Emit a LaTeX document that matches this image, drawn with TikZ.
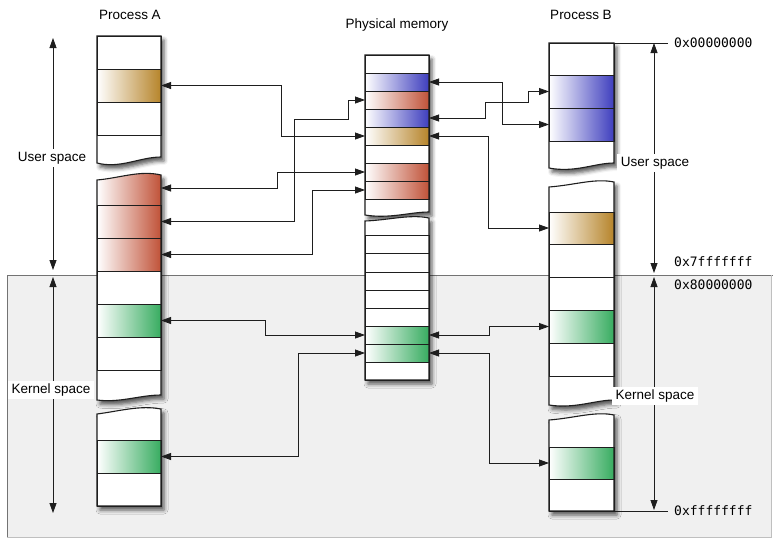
\documentclass[tikz,border=0pt]{standalone}
\usepackage{fontspec}
\setmainfont{Liberation Sans}
\newfontfamily\monof{DejaVu Sans Mono}
\usetikzlibrary{arrows.meta,shadows.blur}
\definecolor{brn}{RGB}{182,132,42}
\definecolor{rd}{RGB}{192,82,56}
\definecolor{blu}{RGB}{62,62,190}
\definecolor{grn}{RGB}{55,172,96}
\definecolor{bgg}{RGB}{240,240,240}
\definecolor{ink}{RGB}{30,30,30}
\tikzset{
  blk/.style={fill=white, draw=none, blur shadow={shadow xshift=3pt, shadow yshift=-4pt, shadow blur radius=4pt, shadow opacity=65}},
  outl/.style={draw=ink, line width=1.1pt},
  cell/.style={draw=ink, line width=1pt, inner sep=0pt, outer sep=0pt, minimum width=64pt},
  cellB/.style={cell, minimum width=65pt},
  ghost/.style={draw=none, inner sep=0pt, outer sep=0pt, minimum width=64pt},
  ghostB/.style={ghost, minimum width=65pt},
  sh/.style={shading=axis, left color=white, right color=#1, shading angle=90},
  conn/.style={draw=ink, line width=0.8pt, {Triangle[length=10pt,width=7pt]}-{Triangle[length=10pt,width=7pt]}},
  dim/.style={draw=ink, line width=0.8pt, {Triangle[length=10pt,width=7pt]}-{Triangle[length=10pt,width=7pt]}},
  ttl/.style={font=\fontsize{13.5}{15}\selectfont, inner sep=1pt},
  lbl/.style={font=\fontsize{13.5}{15}\selectfont, fill=white, inner xsep=4pt, inner ysep=3pt},
  mono/.style={font=\monof\fontsize{13}{14}\selectfont, anchor=west, inner sep=1pt},
}
\begin{document}
\begin{tikzpicture}[x=1pt,y=-1pt]
\useasboundingbox (0,0) rectangle (773,539);
% kernel background
\fill[bgg] (7,275) rectangle (771,537);
\draw[draw=black!55, line width=0.6pt] (7,537) -- (7,275) -- (773,275);
\draw[draw=black!25, line width=0.5pt] (7,537) -- (771,537) -- (771,275);

% block backgrounds
\path[blk] (97,36) -- (161,36) -- (161,157) .. controls (140,157) and (120,169) .. (97,163) -- cycle;
\path[blk] (97,180) .. controls (120,178) and (140,170) .. (161,175) -- (161,395) .. controls (140,395) and (120,403) .. (97,400) -- cycle;
\path[blk] (97,414) .. controls (120,411) and (140,405) .. (161,409) -- (161,506) -- (97,506) -- cycle;
\path[blk] (365,55) -- (429,55) -- (429,212) .. controls (410,212) and (390,219) .. (365,215) -- cycle;
\path[blk] (365,221) .. controls (390,220) and (410,214) .. (429,218) -- (429,380) -- (365,380) -- cycle;
\path[blk] (549,43) -- (614,43) -- (614,163) .. controls (595,163) and (575,173) .. (549,168) -- cycle;
\path[blk] (549,187) .. controls (575,185) and (595,178) .. (614,182) -- (614,400) .. controls (595,400) and (575,409) .. (549,405) -- cycle;
\path[blk] (549,420) .. controls (575,418) and (595,411) .. (614,415) -- (614,511) -- (549,511) -- cycle;

% red wavy-top row of A
\shade[sh=rd] (97,180) .. controls (120,178) and (140,170) .. (161,175) -- (161,205) -- (97,205) -- cycle;

% Process A cells
\node[cell, minimum height=33pt] (a1) at (129,52.5) {};
\node[cell, minimum height=33pt, sh=brn] (a2) at (129,85.5) {};
\node[cell, minimum height=33pt] (a3) at (129,118.5) {};
\node[ghost, minimum height=25pt] (a4) at (129,147.5) {};
\node[ghost, minimum height=34pt] (a5) at (129,188) {};
\node[cell, minimum height=33pt, sh=rd] (a6) at (129,221.5) {};
\node[cell, minimum height=33pt, sh=rd] (a7) at (129,254.5) {};
\node[cell, minimum height=33pt] (a8) at (129,287.5) {};
\node[cell, minimum height=33pt, sh=grn] (a9) at (129,320.5) {};
\node[cell, minimum height=33pt] (a10) at (129,353.5) {};
\node[ghost, minimum height=25pt] (a11) at (129,382.5) {};
\node[ghost, minimum height=30pt] (a12) at (129,425) {};
\node[cell, minimum height=33pt, sh=grn] (a13) at (129,456.5) {};
\node[cell, minimum height=33pt] (a14) at (129,489.5) {};

% Physical memory cells
\node[cell, minimum height=18pt] (p1) at (397,64) {};
\node[cell, minimum height=18pt, sh=blu] (p2) at (397,82) {};
\node[cell, minimum height=18pt, sh=rd] (p3) at (397,100) {};
\node[cell, minimum height=18pt, sh=blu] (p4) at (397,118) {};
\node[cell, minimum height=18pt, sh=brn] (p5) at (397,136) {};
\node[cell, minimum height=18pt] (p6) at (397,154) {};
\node[cell, minimum height=18pt, sh=rd] (p7) at (397,172) {};
\node[cell, minimum height=18pt, sh=rd] (p8) at (397,190) {};
\node[ghost, minimum height=14pt] (p9) at (397,206) {};
\node[ghost, minimum height=17pt] (q1) at (397,226.5) {};
\node[cell, minimum height=18pt] (q2) at (397,244) {};
\node[cell, minimum height=19pt] (q3) at (397,262.5) {};
\node[cell, minimum height=18pt] (q4) at (397,281) {};
\node[cell, minimum height=18pt] (q5) at (397,299) {};
\node[cell, minimum height=18pt] (q6) at (397,317) {};
\node[cell, minimum height=18pt, sh=grn] (q7) at (397,335) {};
\node[cell, minimum height=18pt, sh=grn] (q8) at (397,353) {};
\node[cell, minimum height=18pt] (q9) at (397,371) {};

% Process B cells
\node[cellB, minimum height=32pt] (b1) at (581.5,59) {};
\node[cellB, minimum height=33pt, sh=blu] (b2) at (581.5,91.5) {};
\node[cellB, minimum height=33pt, sh=blu] (b3) at (581.5,124.5) {};
\node[ghostB, minimum height=24pt] (b4) at (581.5,153) {};
\node[ghostB, minimum height=28pt] (b5) at (581.5,198) {};
\node[cellB, minimum height=32pt, sh=brn] (b6) at (581.5,228) {};
\node[cellB, minimum height=33pt] (b7) at (581.5,260.5) {};
\node[cellB, minimum height=33pt] (b8) at (581.5,293.5) {};
\node[cellB, minimum height=33pt, sh=grn] (b9) at (581.5,326.5) {};
\node[cellB, minimum height=33pt] (b10) at (581.5,359.5) {};
\node[ghostB, minimum height=26pt] (b11) at (581.5,389) {};
\node[ghostB, minimum height=30pt] (b12) at (581.5,432) {};
\node[cellB, minimum height=32pt, sh=grn] (b13) at (581.5,463) {};
\node[cellB, minimum height=32pt] (b14) at (581.5,495) {};

% outlines
\path[outl] (97,36) -- (161,36) -- (161,157) .. controls (140,157) and (120,169) .. (97,163) -- cycle;
\path[outl] (97,180) .. controls (120,178) and (140,170) .. (161,175) -- (161,395) .. controls (140,395) and (120,403) .. (97,400) -- cycle;
\path[outl] (97,414) .. controls (120,411) and (140,405) .. (161,409) -- (161,506) -- (97,506) -- cycle;
\path[outl] (365,55) -- (429,55) -- (429,212) .. controls (410,212) and (390,219) .. (365,215) -- cycle;
\path[outl] (365,221) .. controls (390,220) and (410,214) .. (429,218) -- (429,380) -- (365,380) -- cycle;
\path[outl] (549,43) -- (614,43) -- (614,163) .. controls (595,163) and (575,173) .. (549,168) -- cycle;
\path[outl] (549,187) .. controls (575,185) and (595,178) .. (614,182) -- (614,400) .. controls (595,400) and (575,409) .. (549,405) -- cycle;
\path[outl] (549,420) .. controls (575,418) and (595,411) .. (614,415) -- (614,511) -- (549,511) -- cycle;

% connectors A <-> physical
\draw[conn] (a2.east) -| ([xshift=-84pt]p5.west) -- (p5.west);
\draw[conn] (a6.east) -| (294,119) -| ([xshift=-17pt]p3.west) -- (p3.west);
\draw[conn] (a5.east) -| ([xshift=-88pt]p7.west) -- (p7.west);
\draw[conn] (a7.east) -| ([xshift=-53pt]p8.west) -- (p8.west);
\draw[conn] (a9.east) -| ([xshift=-100pt]q7.west) -- (q7.west);
\draw[conn] (a13.east) -| ([xshift=-67pt]q8.west) -- (q8.west);

% connectors physical <-> B
\draw[conn] (p2.east) -| ([xshift=-47pt]b3.west) -- (b3.west);
\draw[conn] (p4.east) -| (485,102) -| ([xshift=-21pt]b2.west) -- (b2.west);
\draw[conn] (p5.east) -| ([xshift=-61pt]b6.west) -- (b6.west);
\draw[conn] (q7.east) -| ([xshift=-60pt]b9.west) -- (b9.west);
\draw[conn] (q8.east) -| ([xshift=-60pt]b13.west) -- (b13.west);

% dimension lines
\coordinate (lu1) at (53,38);
\coordinate (lu2) at (53,270);
\coordinate (lk1) at (53,277);
\coordinate (lk2) at (53,513);
\coordinate (ru1) at (654,43);
\coordinate (ru2) at (654,273);
\coordinate (rk1) at (654,277);
\coordinate (rk2) at (654,510);
\coordinate (t0) at (668,43);
\coordinate (t1) at (668,511);
\draw[dim] (lu1) -- (lu2);
\draw[dim] (lk1) -- (lk2);
\draw[dim] (ru1) -- (ru2);
\draw[dim] (rk1) -- (rk2);
\draw[draw=ink, line width=0.8pt] (b1.north east) -- (t0);
\draw[draw=ink, line width=0.8pt] (b14.south east) -- (t1);

% labels
\node[ttl] (tA) at (130,15) {Process A};
\node[ttl] (tP) at (397,25) {Physical memory};
\node[ttl] (tB) at (581,15) {Process B};
\node[lbl] (uL) at (52,158) {User space};
\node[lbl] (kL) at (51,390) {Kernel space};
\node[lbl] (uR) at (655,163) {User space};
\node[lbl] (kR) at (655,396) {Kernel space};
\node[mono] (h0) at (673,43) {0x00000000};
\node[mono] (h1) at (673,262) {0x7fffffff};
\node[mono] (h2) at (673,285) {0x80000000};
\node[mono] (h3) at (673,511) {0xffffffff};
\end{tikzpicture}
\end{document}
